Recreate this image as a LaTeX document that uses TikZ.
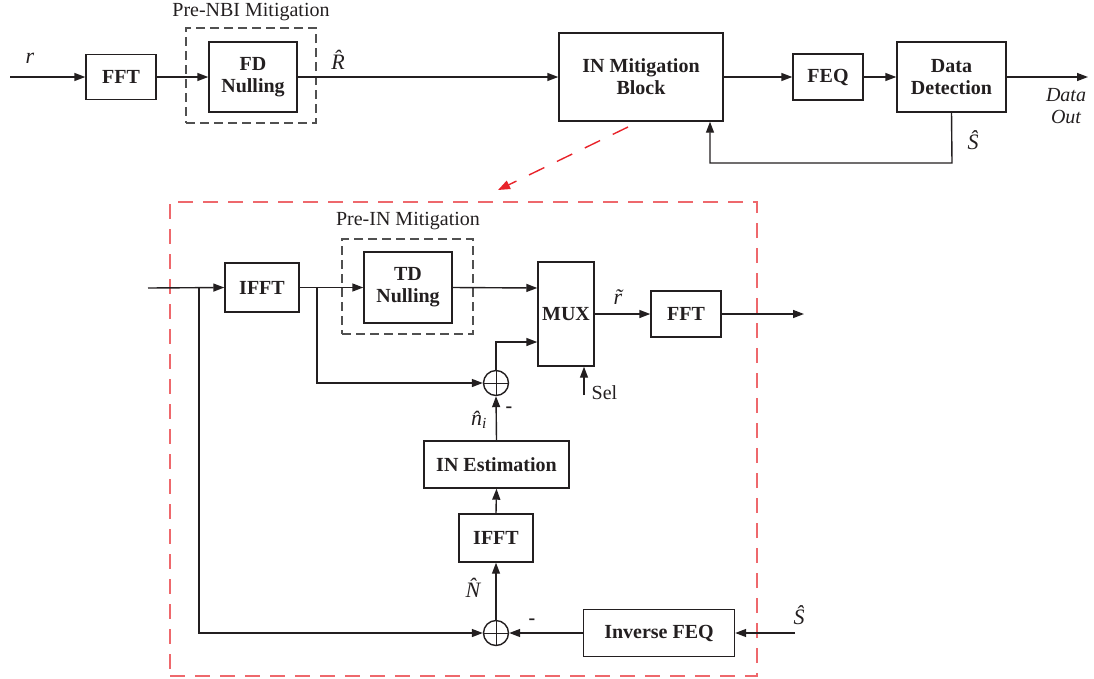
\documentclass[tikz,border=0pt]{standalone}
\usepackage{fontspec}
\setmainfont{Liberation Serif}
\usetikzlibrary{arrows.meta,calc}
\definecolor{boxred}{RGB}{238,104,108}
\definecolor{arrred}{RGB}{232,35,42}
\definecolor{dashgray}{RGB}{80,80,80}
\definecolor{ink}{RGB}{35,31,32}
\begin{document}
\begin{tikzpicture}[x=1pt,y=-1pt,
  line width=1.4pt, draw=ink,
  >={Triangle[length=11pt,width=8pt]},
  blk/.style={draw, rectangle, inner sep=0pt, align=center, text=ink,
    font=\fontsize{20}{22}\selectfont\bfseries},
  lbl/.style={inner sep=0pt, text=ink, font=\fontsize{20}{22}\selectfont},
  mlbl/.style={inner sep=0pt, text=ink, font=\fontsize{22}{24}\selectfont\itshape},
  adder/.style={draw, circle, minimum size=25pt, inner sep=0pt},
  grpbox/.style={draw=dashgray, dash pattern=on 9pt off 5pt, line width=1.1pt, rectangle, inner sep=0pt},
  redbox/.style={draw=boxred, dash pattern=on 15pt off 10pt, line width=1.4pt, rectangle, inner sep=0pt},
  conn/.style={->}
]
\useasboundingbox (0,0) rectangle (1094,678);

% ---------- top chain ----------
\coordinate (in1) at (10,77);
\node[mlbl] (rlab) at (30,58) {r};
\node[blk, minimum width=70pt, minimum height=45pt] (fft1) at (121,77) {FFT};
\node[grpbox, minimum width=130pt, minimum height=95pt] (nbi) at (251,75.5) {};
\node[lbl] (nbilab) at (251,12) {Pre-NBI Mitigation};
\node[blk, minimum width=88pt, minimum height=70pt] (fdn) at (253,77) {FD\\Nulling};
\node[mlbl] (Rlab) at (338,60) {\^{R}};
\node[blk, minimum width=164pt, minimum height=88pt] (inmb) at (641,77) {IN Mitigation\\Block};
\node[blk, minimum width=70pt, minimum height=46pt] (feq) at (828,77) {FEQ};
\node[blk, minimum width=109pt, minimum height=70pt] (dd) at (951.5,77) {Data\\Detection};
\coordinate (out1) at (1088,77);
\node[lbl, font=\fontsize{20}{22}\selectfont\itshape, align=center] (dout) at (1066,106) {Data\\Out};
\node[mlbl] (s1lab) at (973,140) {\^{S}};
\coordinate (fb1) at (952,163);
\coordinate (fb2) at (710,163);

\draw[conn] (in1) -- (fft1.west);
\draw[conn] (fft1.east) -- (fdn.west);
\draw[conn] (fdn.east) -- (inmb.west);
\draw[conn] (inmb.east) -- (feq.west);
\draw[conn] (feq.east) -- (dd.west);
\draw[conn] (dd.east) -- (out1);
\draw[conn] (dd.south) -- (fb1) -- (fb2) -- (fb2 |- inmb.south);

% ---------- zoom arrow ----------
\coordinate (za) at (628,127);
\coordinate (zb) at (498,190);
\draw[draw=arrred, line width=1.4pt, dash pattern=on 17pt off 14pt,
  -{Triangle[length=12pt,width=9pt]}, color=arrred] (za) -- (zb);

% ---------- inner block ----------
\node[redbox, minimum width=587pt, minimum height=474pt] (inner) at (463.5,439) {};

\coordinate (in2) at (148,288);
\coordinate (b1) at (199,288);
\node[blk, minimum width=74pt, minimum height=49pt] (ifft1) at (262,287.5) {IFFT};
\coordinate (b2) at (317,288);
\node[grpbox, minimum width=131pt, minimum height=95pt] (preIN) at (407.5,286.5) {};
\node[lbl] (preINlab) at (408,221) {Pre-IN Mitigation};
\node[blk, minimum width=88pt, minimum height=71pt] (tdn) at (408,287.5) {TD\\Nulling};
\node[blk, minimum width=56pt, minimum height=104pt] (mux) at (566,314) {MUX};
\node[adder] (add1) at (496,383) {};
\node[mlbl] (rtl) at (618,297) {\~{r}};
\node[blk, minimum width=70pt, minimum height=46pt] (fft2) at (686,314) {FFT};
\coordinate (out2) at (804,314);
\coordinate (sel) at (584,395);
\node[lbl, anchor=west] (sellab) at (591,393) {Sel};
\node[blk, minimum width=145pt, minimum height=47pt] (inest) at (496.5,464.5) {IN Estimation};
\node[blk, minimum width=74pt, minimum height=48pt] (ifft2) at (496,538) {IFFT};
\node[adder] (add2) at (496,633) {};
\node[blk, minimum width=151pt, minimum height=47pt] (ifeq) at (659,633) {Inverse FEQ};
\coordinate (in3) at (795,633);
\node[mlbl] (s2lab) at (799,615) {\^{S}};
\node[mlbl] (Nlab) at (473,588) {\^{N}};
\node[mlbl] (nilab) at (479,420) {\^{n}\textsubscript{i}};
\node[lbl, font=\fontsize{20}{22}\selectfont\bfseries] (m1) at (509,410) {-};
\node[lbl, font=\fontsize{20}{22}\selectfont\bfseries] (m2) at (532,622) {-};

% adder crosses
\draw[line width=0.9pt] (add1.north) -- (add1.south) (add1.west) -- (add1.east);
\draw[line width=0.9pt] (add2.north) -- (add2.south) (add2.west) -- (add2.east);

\draw[conn] (in2) -- (ifft1.west);
\draw[conn] (b1) |- (add2.west);
\draw[conn] (ifft1.east) -- (tdn.west);
\draw[conn] (b2) |- (add1.west);
\draw[conn] (tdn.east) -- ($(mux.west)+(0,-26)$);
\draw[conn] (add1.north) |- ($(mux.west)+(0,28)$);
\draw[conn] (mux.east) -- (fft2.west);
\draw[conn] (fft2.east) -- (out2);
\draw[conn] (sel) -- (sel |- mux.south);
\draw[conn] (inest.north) -- (add1.south);
\draw[conn] (ifft2.north) -- (inest.south);
\draw[conn] (add2.north) -- (ifft2.south);
\draw[conn] (ifeq.west) -- (add2.east);
\draw[conn] (in3) -- (ifeq.east);
\end{tikzpicture}
\end{document}
